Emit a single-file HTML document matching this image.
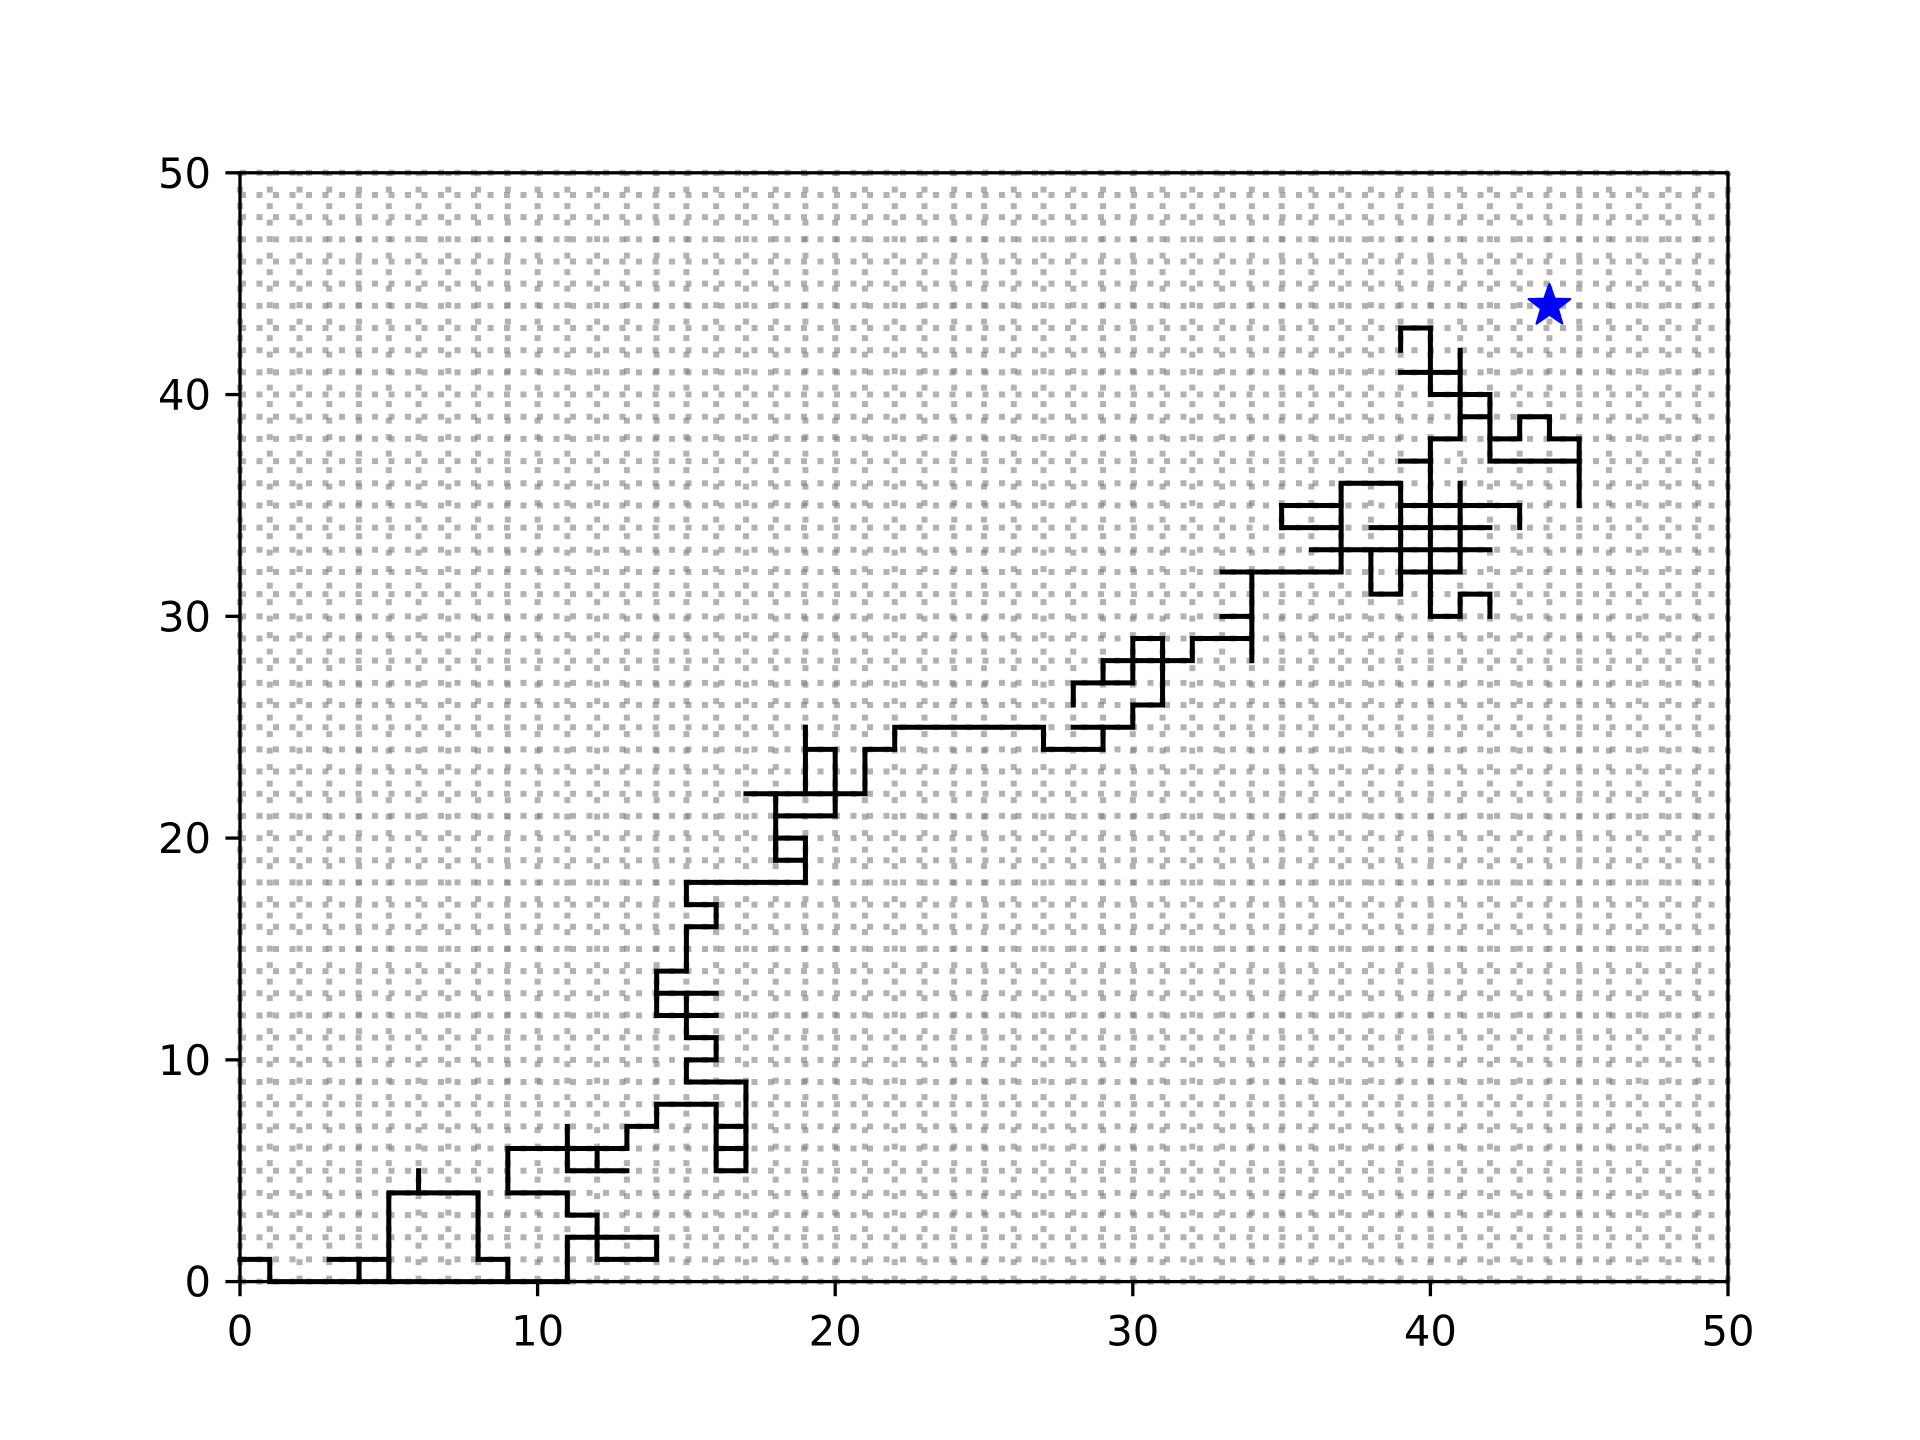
<!DOCTYPE html>
<html><head><meta charset="utf-8"><style>
html,body{margin:0;padding:0;background:#fff;}
svg{display:block;}
text{font-family:"DejaVu Sans","Liberation Sans",sans-serif;font-size:41.7px;fill:#000;}
</style></head>
<body>
<svg id="chart" width="1920" height="1440" viewBox="0 0 1920 1440" xmlns="http://www.w3.org/2000/svg">
<rect x="0" y="0" width="1920" height="1440" fill="#fff"/>
<g id="grid"></g>
<g id="paths"></g>
<g id="marks"></g>
<rect x="240" y="172.8" width="1488" height="1108.8" fill="none" stroke="#000" stroke-width="3.3"/>
<g id="ticks"></g>
</svg>
<script>
const xTicks = [0,10,20,30,40,50];
const yTicks = [0,10,20,30,40,50];
const gridSteps = 50;
const target = [44,44];
const walkSegments = [
 [[0,1],[1,1],[1,0],[11,0]],
 [[3,1],[5,1]],
 [[4,1],[4,0]],
 [[5,0],[5,4],[8,4],[8,1],[9,1],[9,0]],
 [[6,4],[6,5]],
 [[11,0],[11,2],[14,2],[14,1],[12,1],[12,3],[11,3],[11,4],[9,4],[9,6],[13,6],[13,7],[14,7],[14,8],[16,8],[16,5],[17,5],[17,9],[15,9],[15,10],[16,10],[16,11],[15,11],[15,13]],
 [[11,7],[11,5],[13,5]],
 [[12,6],[12,5]],
 [[16,7],[17,7]],
 [[16,6],[17,6]],
 [[14,13],[16,13]],
 [[14,12],[16,12]],
 [[14,12],[14,14],[15,14],[15,16],[16,16],[16,17],[15,17],[15,18],[19,18],[19,20],[18,20],[18,19],[19,19]],
 [[18,19],[18,22]],
 [[17,22],[21,22],[21,24],[22,24],[22,25],[27,25],[27,24],[29,24],[29,25],[30,25],[30,26],[31,26],[31,29],[30,29],[30,27],[28,27],[28,26]],
 [[18,21],[20,21],[20,24],[19,24]],
 [[19,22],[19,25]],
 [[28,25],[29,25]],
 [[29,27],[29,28],[32,28],[32,29],[34,29]],
 [[34,28],[34,32]],
 [[33,30],[34,30]],
 [[33,32],[37,32],[37,36],[39,36],[39,31],[38,31],[38,33]],
 [[35,35],[37,35]],
 [[35,35],[35,34],[37,34]],
 [[39,35],[43,35],[43,34]],
 [[38,34],[42,34]],
 [[36,33],[42,33]],
 [[41,36],[41,32],[39,32]],
 [[40,38],[40,30],[41,30],[41,31],[42,31],[42,30]],
 [[39,37],[40,37]],
 [[40,38],[41,38],[41,42]],
 [[39,41],[41,41]],
 [[39,42],[39,43],[40,43],[40,40],[42,40],[42,37],[45,37]],
 [[41,39],[42,39]],
 [[42,38],[43,38],[43,39],[44,39],[44,38],[45,38],[45,35]]
];

const NS = "http://www.w3.org/2000/svg";
const L = 240, R = 1728, T = 172.8, B = 1281.6;
const xMin = 0, xMax = 50, yMin = 0, yMax = 50;
function sx(v){ return L + (v - xMin) / (xMax - xMin) * (R - L); }
function sy(v){ return B - (v - yMin) / (yMax - yMin) * (B - T); }
function mk(tag, attrs, parent){
  const el = document.createElementNS(NS, tag);
  for (const k in attrs) el.setAttribute(k, attrs[k]);
  parent.appendChild(el);
  return el;
}
const grid = document.getElementById('grid');
for (let i = 0; i <= gridSteps; i++) {
  const gx = sx(xMin + i * (xMax - xMin) / gridSteps);
  const v = mk('line', {x1: gx, y1: B, x2: gx, y2: T, stroke: '#808080', 'stroke-width': 6, 'stroke-dasharray': '6,10.5', opacity: 0.6}, grid);
  
  
  const gy = sy(yMin + i * (yMax - yMin) / gridSteps);
  const h = mk('line', {x1: L, y1: gy, x2: R, y2: gy, stroke: '#808080', 'stroke-width': 6, 'stroke-dasharray': '6,10.5', opacity: 0.6}, grid);
  
  
}
const paths = document.getElementById('paths');
walkSegments.forEach(seg => {
  const pts = seg.map(p => sx(p[0]).toFixed(2) + ',' + sy(p[1]).toFixed(2)).join(' ');
  const pl = mk('polyline', {points: pts, fill: 'none', stroke: '#000', 'stroke-width': 5, 'stroke-linejoin': 'miter', 'stroke-linecap': 'square'}, paths);
  
  
});
const marks = document.getElementById('marks');
(function(){
  const cx = sx(target[0]), cy = sy(target[1]), ro = 22, ri = 9;
  let pts = [];
  for (let k = 0; k < 10; k++) {
    const r = k % 2 === 0 ? ro : ri;
    const a = -Math.PI / 2 + k * Math.PI / 5;
    pts.push((cx + r * Math.cos(a)).toFixed(2) + ',' + (cy + r * Math.sin(a)).toFixed(2));
  }
  const st = mk('polygon', {points: pts.join(' '), fill: '#0000ff', stroke: '#0000ff', 'stroke-width': 2, 'stroke-linejoin': 'round'}, marks);
  
  
})();
const ticks = document.getElementById('ticks');
xTicks.forEach(t => {
  const x = sx(t);
  const tl = mk('line', {x1: x, y1: B, x2: x, y2: B + 14.6, stroke: '#000', 'stroke-width': 3.3}, ticks);
  
  
  const tx = mk('text', {x: x, y: B + 64, 'text-anchor': 'middle'}, ticks);
  tx.textContent = t;
  
  
});
yTicks.forEach(t => {
  const y = sy(t);
  const tl = mk('line', {x1: L - 14.6, y1: y, x2: L, y2: y, stroke: '#000', 'stroke-width': 3.3}, ticks);
  
  
  const tx = mk('text', {x: L - 29, y: y + 15, 'text-anchor': 'end'}, ticks);
  tx.textContent = t;
  
  
});
</script>
</body></html>
